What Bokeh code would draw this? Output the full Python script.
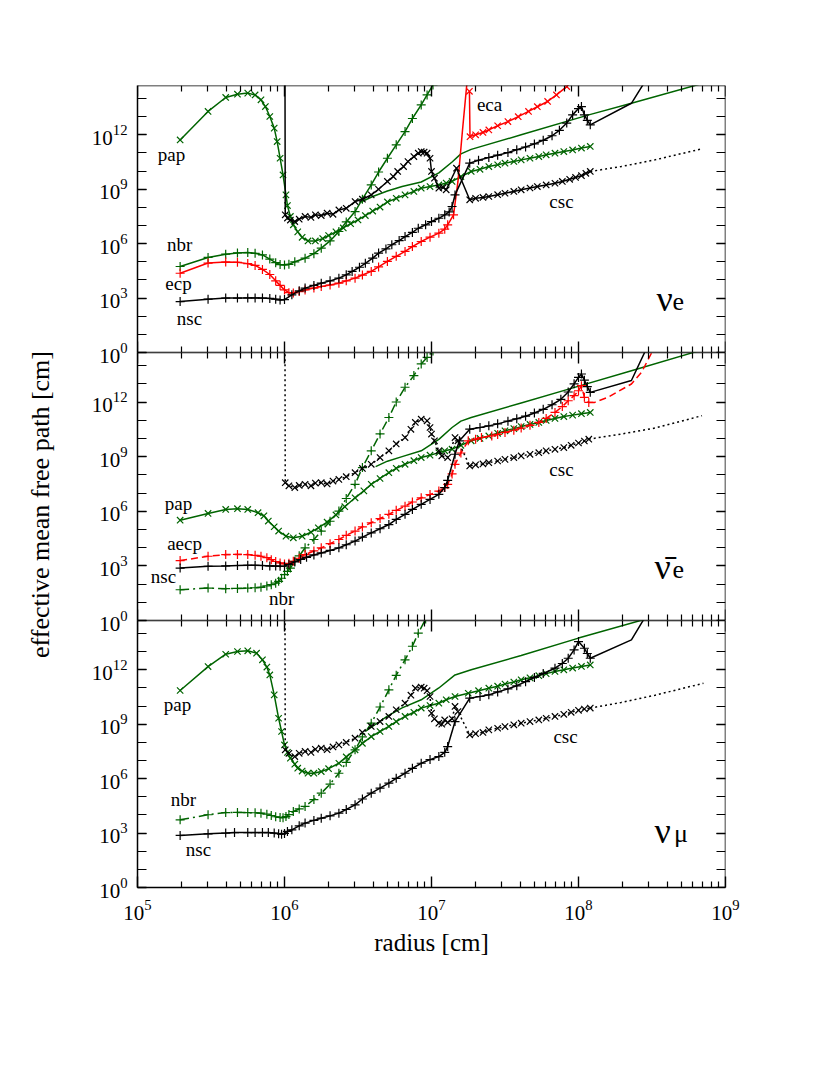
import math
from bokeh.plotting import figure
from bokeh.layouts import column, row
from bokeh.models import LogAxis, FixedTicker, LogTickFormatter, Range1d, Label
from bokeh.embed import file_html
from bokeh.resources import INLINE

# ---------------- data: (log10 radius [cm], log10 effective mean free path [cm]) ----------------
# ---- panel 1 : nu_e ----
TOP_NSC = [(5.29,2.81),(5.48,2.94),(5.60,3.00),(5.68,3.00),(5.75,3.01),(5.80,3.01),(5.85,3.00),(5.90,2.98),
           (5.94,2.94),(5.97,2.90),(6.00,2.92),(6.05,3.18),(6.10,3.40),(6.14,3.55),(6.20,3.70),(6.25,3.82),
           (6.31,3.95),(6.37,4.10),(6.42,4.28),(6.46,4.47),(6.51,4.70),(6.55,4.92),(6.60,5.20),(6.64,5.48),
           (6.69,5.71),(6.73,5.94),(6.78,6.17),(6.82,6.39),(6.87,6.62),(6.91,6.85),(6.96,7.04),(7.00,7.22),
           (7.05,7.40),(7.09,7.59),(7.12,7.75),(7.14,8.05),(7.16,8.69),(7.26,10.44),(7.32,10.60),(7.39,10.75),
           (7.45,10.88),(7.52,11.02),(7.58,11.18),(7.64,11.33),(7.70,11.50),(7.76,11.70),(7.82,11.95),
           (7.87,12.25),(7.92,12.65),(7.96,13.10),(8.00,13.45),(8.02,13.56),(8.04,13.10),(8.06,12.80),(8.08,12.55)]
TOP_NSC_TAIL = [(8.36,13.74),(8.48,15.3)]

TOP_ECP = [(5.29,4.37),(5.48,4.93),(5.60,4.99),(5.68,4.97),(5.75,4.90),(5.80,4.80),(5.85,4.58),(5.90,4.30),
           (5.94,3.95),(5.97,3.70),(6.00,3.45),(6.03,3.30),(6.06,3.28),(6.10,3.36),(6.14,3.45),(6.20,3.55),
           (6.25,3.64),(6.31,3.72),(6.37,3.82),(6.42,3.95),(6.48,4.10),(6.53,4.27),(6.59,4.47),(6.64,4.72),
           (6.70,5.02),(6.76,5.30),(6.82,5.57),(6.87,5.84),(6.93,6.12),(6.99,6.36),(7.05,6.58),(7.09,6.80),
           (7.11,7.04),(7.15,7.59)]
TOP_ECP_TAIL = [(7.18,9.43),(7.21,12.18),(7.245,15.2)]

TOP_ECA = [(7.258,14.40),(7.262,11.90),(7.30,12.00),(7.35,12.13),(7.39,12.27),(7.45,12.50),(7.52,12.73),
           (7.59,13.00),(7.66,13.29),(7.72,13.55),(7.79,13.84),(7.85,14.20),(7.92,14.66)]
TOP_ECA_TAIL = [(7.95,15.0)]

TOP_CSC_HEAD = [(6.0,30.0)]
TOP_CSC = [(6.005,7.59),(6.02,7.41),(6.04,7.30),(6.07,7.22),(6.10,7.35),(6.14,7.50),(6.18,7.45),(6.21,7.59),
           (6.25,7.55),(6.29,7.68),(6.33,7.62),(6.37,7.86),(6.42,7.95),(6.48,8.32),(6.53,8.45),(6.59,8.69),
           (6.64,9.00),(6.70,9.43),(6.74,9.70),(6.77,9.98),(6.81,10.25),(6.84,10.53),(6.88,10.80),(6.91,10.99),
           (6.93,11.08),(6.95,11.05),(6.97,10.99),(6.99,10.71),(7.00,9.98),(7.02,9.61),(7.05,9.06),(7.08,9.10),
           (7.10,8.97),(7.17,10.16),(7.26,8.42),(7.30,8.50),(7.35,8.55),(7.39,8.60),(7.45,8.70),(7.50,8.78),
           (7.56,8.88),(7.61,8.97),(7.67,9.07),(7.72,9.15),(7.78,9.24),(7.84,9.33),(7.89,9.43),(7.94,9.55),
           (7.98,9.65),(8.02,9.75),(8.05,9.88),(8.08,9.98)]
TOP_CSC_TAIL = [(8.29,10.25),(8.52,10.62),(8.84,11.23)]

TOP_PAP = [(5.29,11.72),(5.48,13.29),(5.60,14.06),(5.68,14.24),(5.75,14.30),(5.80,14.20),(5.84,13.93),
           (5.87,13.56),(5.90,13.01),(5.93,12.37),(5.95,11.63),(5.97,10.71),(5.99,9.79),(6.01,8.69),(6.02,8.10),
           (6.04,7.50),(6.06,7.04),(6.09,6.65),(6.12,6.35),(6.16,6.15),(6.21,6.15),(6.26,6.28),(6.30,6.45),
           (6.35,6.65),(6.40,6.87),(6.45,7.10),(6.50,7.31),(6.55,7.55),(6.60,7.80),(6.65,8.02),(6.70,8.30),
           (6.76,8.50),(6.82,8.69),(6.88,8.88),(6.93,9.06),(6.99,9.15),(7.05,9.24),(7.10,9.34),(7.14,9.43),
           (7.20,9.70),(7.27,9.98),(7.33,10.10),(7.39,10.25),(7.45,10.35),(7.50,10.44),(7.56,10.53),(7.61,10.62),
           (7.67,10.71),(7.73,10.80),(7.78,10.90),(7.84,10.99),(7.90,11.08),(7.96,11.17),(8.02,11.27),(8.08,11.36)]

TOP_NBR = [(5.29,4.74),(5.48,5.24),(5.60,5.42),(5.68,5.49),(5.75,5.51),(5.80,5.47),(5.85,5.38),(5.90,5.15),
           (5.94,4.95),(5.97,4.85),(6.00,4.83),(6.03,4.86),(6.07,5.00),(6.14,5.20),(6.20,5.45),(6.25,5.75),
           (6.31,6.15),(6.37,6.67),(6.42,7.20),(6.48,7.77),(6.53,8.45),(6.59,9.24),(6.64,9.95),(6.70,10.71),
           (6.76,11.45),(6.82,12.18),(6.87,12.90),(6.93,13.65),(6.97,14.20),(7.01,14.75)]

TOP_LINE = [(6.52,8.30),(6.60,8.60),(6.70,8.90),(6.80,9.15),(6.93,9.40),(7.05,9.90),(7.14,10.50),(7.20,10.95),
            (7.27,11.20),(7.61,12.00),(8.07,13.10),(8.36,13.74),(8.81,14.76),(8.90,15.0)]

# ---- panel 2 : anti nu_e ----
MID_NSC = [(5.29,2.88),(5.48,2.98),(5.60,3.00),(5.68,3.02),(5.75,3.03),(5.80,3.03),(5.85,3.02),(5.90,3.00),
           (5.94,2.99),(5.97,2.98),(6.00,2.98),(6.03,3.08),(6.07,3.22),(6.11,3.35),(6.15,3.47),(6.20,3.60),
           (6.25,3.71),(6.31,3.85),(6.37,3.99),(6.42,4.16),(6.48,4.36),(6.53,4.58),(6.59,4.81),(6.65,5.04),
           (6.71,5.27),(6.76,5.55),(6.82,5.83),(6.87,6.10),(6.93,6.38),(6.99,6.65),(7.05,6.93),(7.09,7.30),
           (7.11,7.70),(7.16,9.13),(7.19,9.87),(7.26,10.51),(7.33,10.60),(7.39,10.69),(7.45,10.80),(7.52,10.95),
           (7.58,11.08),(7.64,11.22),(7.70,11.40),(7.76,11.60),(7.82,11.85),(7.88,12.15),(7.93,12.55),
           (7.97,13.00),(8.00,13.35),(8.02,13.54),(8.04,13.20),(8.06,12.85),(8.08,12.53)]
MID_NSC_TAIL = [(8.36,13.18),(8.46,14.9)]

MID_AECP = [(5.29,3.29),(5.48,3.53),(5.60,3.62),(5.68,3.63),(5.75,3.62),(5.80,3.58),(5.84,3.53),(5.88,3.45),
            (5.91,3.34),(5.94,3.24),(5.97,3.16),(6.00,3.11),(6.03,3.14),(6.06,3.25),(6.10,3.42),(6.14,3.62),
            (6.20,3.82),(6.25,3.99),(6.31,4.22),(6.37,4.45),(6.42,4.68),(6.48,4.91),(6.53,5.14),(6.59,5.37),
            (6.65,5.60),(6.71,5.83),(6.76,6.05),(6.82,6.28),(6.87,6.51),(6.93,6.74),(6.99,6.92),(7.05,7.11),
            (7.09,7.30),(7.11,7.48),(7.14,8.05),(7.16,8.58),(7.20,9.20),(7.25,9.87),(7.30,9.96),(7.34,10.05),
            (7.41,10.14),(7.45,10.22),(7.50,10.33),(7.56,10.45),(7.61,10.57),(7.67,10.72),(7.73,10.88),
            (7.78,11.10),(7.84,11.43),(7.89,11.75),(7.93,12.07),(7.97,12.35),(8.00,12.62),(8.02,12.90),
            (8.04,12.26),(8.07,11.98)]
MID_AECP_TAIL = [(8.11,11.98),(8.20,12.26),(8.36,12.99),(8.43,13.65),(8.50,14.74),(8.52,15.0)]

MID_PAP = [(5.29,5.51),(5.48,5.88),(5.60,6.10),(5.68,6.14),(5.75,6.10),(5.82,5.92),(5.86,5.75),(5.89,5.46),
           (5.93,5.15),(5.96,4.91),(6.01,4.63),(6.06,4.54),(6.12,4.63),(6.18,4.85),(6.23,5.09),(6.29,5.40),
           (6.35,5.80),(6.41,6.25),(6.48,6.74),(6.54,7.12),(6.59,7.48),(6.65,7.80),(6.71,8.12),(6.76,8.36),
           (6.82,8.58),(6.88,8.78),(6.93,8.95),(6.99,9.08),(7.05,9.22),(7.09,9.32),(7.14,9.41),(7.20,9.62),
           (7.27,9.87),(7.33,10.00),(7.39,10.14),(7.45,10.28),(7.50,10.42),(7.56,10.54),(7.61,10.65),
           (7.67,10.77),(7.73,10.88),(7.78,10.99),(7.84,11.10),(7.90,11.20),(7.96,11.28),(8.02,11.36),(8.08,11.43)]

MID_NBR = [(5.29,1.69),(5.48,1.78),(5.60,1.75),(5.68,1.76),(5.75,1.78),(5.80,1.80),(5.84,1.82),(5.88,1.90),
           (5.91,1.97),(5.94,2.05),(5.96,2.15),(5.98,2.32),(6.00,2.52),(6.02,2.70),(6.04,2.88),(6.07,3.25),
           (6.10,3.55),(6.14,3.99),(6.20,4.45),(6.25,4.91),(6.31,5.45),(6.37,6.01),(6.42,6.70),(6.48,7.48),
           (6.53,8.40),(6.59,9.32),(6.65,10.25),(6.71,11.15),(6.76,12.00),(6.82,12.81),(6.88,13.45),
           (6.93,14.09),(6.97,14.45),(7.01,14.80)]

MID_CSC_HEAD = [(6.0,30.0)]
MID_CSC = [(6.005,7.57),(6.03,7.40),(6.07,7.30),(6.10,7.42),(6.14,7.48),(6.18,7.40),(6.21,7.55),(6.25,7.57),
           (6.29,7.50),(6.33,7.66),(6.37,7.75),(6.42,7.90),(6.48,8.12),(6.53,8.35),(6.59,8.58),(6.65,8.95),
           (6.71,9.32),(6.76,9.70),(6.82,10.05),(6.86,10.50),(6.89,10.88),(6.93,11.06),(6.97,10.97),
           (6.99,10.60),(7.00,10.24),(7.02,9.87),(7.05,9.32),(7.07,9.04),(7.11,8.95),(7.16,10.05),(7.18,9.87),
           (7.26,8.49),(7.30,8.55),(7.35,8.60),(7.39,8.67),(7.45,8.76),(7.50,8.85),(7.56,8.95),(7.61,9.04),
           (7.67,9.13),(7.73,9.22),(7.78,9.32),(7.84,9.40),(7.90,9.50),(7.95,9.62),(8.00,9.75),(8.04,9.86),(8.07,9.96)]
MID_CSC_TAIL = [(8.29,10.24),(8.52,10.57),(8.84,11.25)]

MID_LINE = [(6.62,8.45),(6.70,8.75),(6.80,9.00),(6.93,9.32),(7.05,9.95),(7.14,10.60),(7.20,10.95),(7.27,11.15),
            (7.61,11.95),(7.95,12.75),(8.36,13.72),(8.79,14.74),(8.90,15.0)]

# ---- panel 3 : nu_mu ----
BOT_NSC = [(5.29,2.87),(5.48,2.96),(5.60,3.00),(5.66,3.03),(5.75,3.03),(5.80,3.03),(5.85,3.03),(5.89,3.03),
           (5.93,3.00),(5.96,2.97),(5.98,2.94),(6.00,2.98),(6.02,3.09),(6.05,3.18),(6.10,3.40),(6.14,3.55),
           (6.20,3.70),(6.25,3.82),(6.31,3.95),(6.37,4.10),(6.42,4.30),(6.48,4.56),(6.53,4.88),(6.59,5.20),
           (6.65,5.48),(6.71,5.75),(6.76,6.02),(6.82,6.30),(6.87,6.57),(6.93,6.85),(6.99,7.05),(7.05,7.22),
           (7.09,7.45),(7.11,7.77),(7.16,9.15),(7.26,10.44),(7.33,10.53),(7.39,10.62),(7.45,10.78),(7.52,10.95),
           (7.58,11.12),(7.64,11.35),(7.70,11.58),(7.76,11.80),(7.84,12.09),(7.89,12.35),(7.93,12.64),
           (7.97,13.10),(8.00,13.56),(8.04,13.19),(8.06,12.90),(8.08,12.64)]
BOT_NSC_TAIL = [(8.36,13.65),(8.46,15.0)]

BOT_NBR = [(5.29,3.73),(5.48,4.01),(5.60,4.13),(5.68,4.14),(5.75,4.13),(5.80,4.12),(5.84,4.10),(5.88,4.04),
           (5.91,3.97),(5.94,3.90),(5.97,3.86),(5.99,3.85),(6.01,3.91),(6.03,4.02),(6.06,4.19),(6.10,4.33),
           (6.14,4.47),(6.20,4.85),(6.25,5.20),(6.31,5.70),(6.37,6.30),(6.42,6.90),(6.48,7.59),(6.53,8.30),
           (6.59,9.06),(6.65,9.95),(6.71,10.90),(6.76,11.70),(6.82,12.55),(6.87,13.30),(6.91,14.02),(6.96,14.80)]

BOT_PAP = [(5.29,10.86),(5.48,12.18),(5.60,12.86),(5.68,13.01),(5.75,13.05),(5.81,12.92),(5.85,12.55),
           (5.88,12.15),(5.90,11.72),(5.93,10.62),(5.96,9.33),(5.98,8.60),(6.00,7.86),(6.02,7.45),(6.04,7.13),
           (6.07,6.80),(6.09,6.58),(6.12,6.42),(6.16,6.30),(6.20,6.30),(6.25,6.39),(6.30,6.55),(6.37,6.85),
           (6.42,7.20),(6.48,7.59),(6.53,7.95),(6.59,8.32),(6.65,8.60),(6.71,8.88),(6.76,9.15),(6.82,9.43),
           (6.88,9.66),(6.93,9.89),(6.99,10.03),(7.05,10.16),(7.10,10.35),(7.16,10.53),(7.25,10.71),(7.32,10.85),
           (7.39,10.99),(7.45,11.10),(7.50,11.22),(7.56,11.33),(7.61,11.45),(7.67,11.56),(7.73,11.68),
           (7.78,11.79),(7.84,11.91),(7.90,12.00),(7.96,12.10),(8.02,12.19),(8.08,12.27)]

BOT_CSC_HEAD = [(6.0,30.0)]
BOT_CSC = [(6.005,7.59),(6.03,7.40),(6.07,7.22),(6.10,7.40),(6.14,7.50),(6.18,7.45),(6.21,7.62),(6.25,7.68),
           (6.29,7.60),(6.33,7.75),(6.37,7.86),(6.42,8.00),(6.48,8.23),(6.53,8.55),(6.59,8.88),(6.65,9.15),
           (6.71,9.43),(6.76,9.80),(6.82,10.16),(6.86,10.60),(6.89,10.99),(6.93,11.05),(6.95,10.99),(6.97,10.85),
           (6.99,10.53),(7.00,9.61),(7.02,9.30),(7.05,9.06),(7.07,9.00),(7.09,9.24),(7.11,9.10),(7.14,9.30),
           (7.16,9.98),(7.18,9.70),(7.26,8.42),(7.30,8.48),(7.35,8.55),(7.39,8.69),(7.45,8.78),(7.50,8.87),
           (7.56,8.97),(7.61,9.06),(7.67,9.15),(7.73,9.24),(7.78,9.33),(7.84,9.43),(7.90,9.55),(7.95,9.66),
           (8.00,9.77),(8.04,9.84),(8.08,9.89)]
BOT_CSC_TAIL = [(8.29,10.20),(8.52,10.60),(8.85,11.26)]

BOT_LINE = [(6.55,8.60),(6.62,9.00),(6.70,9.45),(6.80,9.90),(6.93,10.35),(7.05,11.00),(7.16,11.72),(7.27,12.00),
            (7.61,12.79),(8.00,13.75),(8.44,14.76),(8.60,15.1)]

# axis ticks
X_MAJOR = [1e5, 1e6, 1e7, 1e8, 1e9]
X_MINOR = [k * 10.0 ** d for d in range(5, 9) for k in range(2, 10)]
Y_MAJOR = [1e0, 1e3, 1e6, 1e9, 1e12]
Y_MINOR = [10.0 ** k for k in range(0, 15)]

GREEN = "#006400"
RED = "#ff0000"
BLACK = "#000000"
FONT = "Liberation Serif"
Y_TOP = 10 ** 14.72

LAB_W = 60          # width of the strip that carries the y-axis title
LEFT = 77           # left border of each panel (after the strip)
OVERLAP = 14        # room below a panel for its "10^0" label, overlapped by next panel


def style_axis(ax, is_x, labels):
    if is_x:
        ax.ticker = FixedTicker(ticks=X_MAJOR, minor_ticks=X_MINOR)
        ax.major_tick_in, ax.minor_tick_in = 11, 6
    else:
        ax.ticker = FixedTicker(ticks=Y_MAJOR, minor_ticks=Y_MINOR)
        ax.major_tick_in, ax.minor_tick_in = 9, 9
    ax.formatter = LogTickFormatter()
    ax.major_tick_out = 0
    ax.minor_tick_out = 0
    ax.axis_line_width = 1.5
    ax.axis_line_color = BLACK
    ax.major_tick_line_color = BLACK
    ax.minor_tick_line_color = BLACK
    ax.major_tick_line_width = 1.4
    ax.minor_tick_line_width = 1.2
    ax.major_label_text_font = FONT
    ax.major_label_text_color = BLACK
    ax.major_label_text_font_size = "21px"
    if not labels:
        ax.major_label_text_color = None


def make_panel(frame_h, border_top, border_bottom, x_labels):
    p = figure(frame_width=588, frame_height=frame_h, x_axis_type="log", y_axis_type="log",
               x_range=Range1d(1e5, 1e9), y_range=Range1d(1, Y_TOP),
               output_backend="svg", toolbar_location=None,
               min_border_left=LEFT, min_border_right=40,
               min_border_top=border_top, min_border_bottom=border_bottom)
    p.grid.visible = False
    p.outline_line_color = None
    p.background_fill_color = None
    p.border_fill_color = None
    xb = p.xaxis[0]
    style_axis(xb, True, x_labels)
    if x_labels:
        xb.major_label_standoff = 12
        xb.axis_label = "radius [cm]"
        xb.axis_label_text_font = FONT
        xb.axis_label_text_font_size = "25px"
        xb.axis_label_text_font_style = "normal"
        xb.axis_label_text_color = BLACK
        xb.axis_label_standoff = 6
    else:
        xb.fixed_location = 1.0
    yl = p.yaxis[0]
    style_axis(yl, False, True)
    yl.major_label_standoff = 10
    xa = LogAxis(fixed_location=Y_TOP)
    style_axis(xa, True, False)
    p.add_layout(xa, "above")
    yr = LogAxis(fixed_location=1e9)
    style_axis(yr, False, False)
    p.add_layout(yr, "right")
    return p


def draw(p, pts, color, marker, dash="solid", head=None, tail=None, tail_dash="solid", marks=True):
    xs = [10.0 ** r for r, _ in pts]
    ys = [10.0 ** m for _, m in pts]
    lx, ly = list(xs), list(ys)
    if head:
        lx = [10.0 ** r for r, _ in head] + lx
        ly = [10.0 ** m for _, m in head] + ly
    p.line(lx, ly, line_color=color, line_width=1.5, line_dash=dash)
    if tail:
        tx = [xs[-1]] + [10.0 ** r for r, _ in tail]
        ty = [ys[-1]] + [10.0 ** m for _, m in tail]
        p.line(tx, ty, line_color=color, line_width=1.5, line_dash=tail_dash)
    if marks:
        p.scatter(xs, ys, marker=marker, size=9, line_color=color, line_width=1.2, fill_color=None)


def label(p, lr, lm, text, size="19px", align="center", baseline="middle"):
    p.add_layout(Label(x=10.0 ** lr, y=10.0 ** lm, text=text, text_font=FONT, text_font_size=size,
                       text_align=align, text_baseline=baseline, text_color=BLACK))


DOT = "2 3"
DASH = "7 4"
DASHDOT = "9 4 2 4"

# ---------- top panel ----------
p1 = make_panel(267, 85, OVERLAP, False)
draw(p1, TOP_LINE, GREEN, "x", marks=False)
draw(p1, TOP_PAP, GREEN, "x")
draw(p1, TOP_NBR, GREEN, "cross")
draw(p1, TOP_ECP, RED, "cross", tail=TOP_ECP_TAIL)
draw(p1, TOP_ECA, RED, "x", tail=TOP_ECA_TAIL)
draw(p1, TOP_NSC, BLACK, "cross", tail=TOP_NSC_TAIL)
draw(p1, TOP_CSC, BLACK, "x", head=TOP_CSC_HEAD, tail=TOP_CSC_TAIL, tail_dash=DOT)
label(p1, 5.231, 10.92, "pap")
label(p1, 5.286, 5.95, "nbr")
label(p1, 5.279, 3.80, "ecp")
label(p1, 5.354, 1.87, "nsc")
label(p1, 7.395, 13.67, "eca")
label(p1, 7.884, 8.32, "csc")
label(p1, 8.531, 2.977, "\u03bd", size="36px", align="left", baseline="alphabetic")
label(p1, 8.640, 2.80, "e", size="26px", align="left", baseline="alphabetic")

# ---------- middle panel ----------
p2 = make_panel(268, 0, OVERLAP, False)
p2.margin = (-OVERLAP, 0, 0, 0)
draw(p2, MID_LINE, GREEN, "x", marks=False)
draw(p2, MID_PAP, GREEN, "x")
draw(p2, MID_NBR, GREEN, "cross", dash=DASHDOT)
draw(p2, MID_AECP, RED, "cross", dash=DASH, tail=MID_AECP_TAIL, tail_dash=DASH)
draw(p2, MID_NSC, BLACK, "cross", tail=MID_NSC_TAIL)
draw(p2, MID_CSC, BLACK, "x", dash=DOT, head=MID_CSC_HEAD, tail=MID_CSC_TAIL, tail_dash=DOT)
label(p2, 5.279, 6.45, "pap")
label(p2, 5.32, 4.24, "aecp")
label(p2, 5.177, 2.43, "nsc")
label(p2, 5.98, 1.21, "nbr")
label(p2, 7.884, 8.32, "csc")
label(p2, 8.517, 2.92, "\u03bd\u0304", size="36px", align="left", baseline="alphabetic")
label(p2, 8.640, 2.78, "e", size="26px", align="left", baseline="alphabetic")

# ---------- bottom panel ----------
p3 = make_panel(267, 0, 80, True)
p3.margin = (-OVERLAP, 0, 0, 0)
draw(p3, BOT_LINE, GREEN, "x", marks=False)
draw(p3, BOT_PAP, GREEN, "x")
draw(p3, BOT_NBR, GREEN, "cross", dash=DASHDOT)
draw(p3, BOT_NSC, BLACK, "cross", tail=BOT_NSC_TAIL)
draw(p3, BOT_CSC, BLACK, "x", dash=DOT, head=BOT_CSC_HEAD, tail=BOT_CSC_TAIL, tail_dash=DOT)
label(p3, 5.272, 10.09, "pap")
label(p3, 5.313, 4.85, "nbr")
label(p3, 5.415, 2.09, "nsc")
label(p3, 7.912, 8.32, "csc")
label(p3, 8.517, 3.14, "\u03bd", size="36px", align="left", baseline="alphabetic")
label(p3, 8.650, 2.98, "\u03bc", size="26px", align="left", baseline="alphabetic")

# ---------- strip with the shared y-axis title ----------
TOTAL_H = (85 + 267 + OVERLAP) + 268 + (267 + 80)
lab = figure(width=LAB_W, height=TOTAL_H, x_range=Range1d(0, 1), y_range=Range1d(0, 1),
             output_backend="svg", toolbar_location=None, min_border=0,
             x_axis_location=None, y_axis_location=None)
lab.grid.visible = False
lab.outline_line_color = None
lab.background_fill_color = None
lab.border_fill_color = None
lab.add_layout(Label(x=40.0 / LAB_W, y=1.0 - 504.0 / TOTAL_H, text="effective mean free path [cm]",
                     angle=math.pi / 2, text_font=FONT, text_font_size="26px", text_color=BLACK,
                     text_align="center", text_baseline="middle"))

layout = row(lab, column(p1, p2, p3, spacing=0), spacing=0)
open("out.html", "w").write(file_html(layout, INLINE))
